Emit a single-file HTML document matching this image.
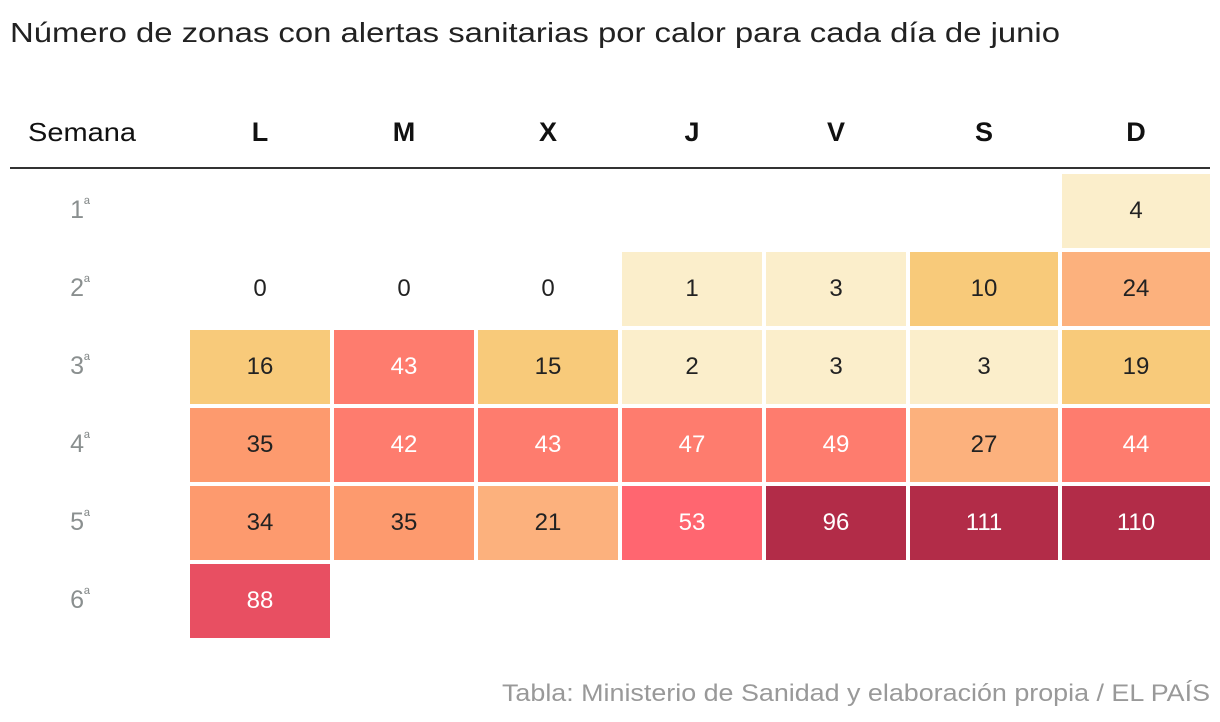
<!DOCTYPE html>
<html><head><meta charset="utf-8"><style>
html,body{margin:0;padding:0;background:#fff;width:1220px;height:722px;overflow:hidden}
svg{display:block;font-family:"Liberation Sans",sans-serif}
</style></head><body>
<svg id="chart" width="1220" height="722">
<text x="10" y="42" font-size="28" fill="#222" textLength="1050" lengthAdjust="spacingAndGlyphs">Número de zonas con alertas sanitarias por calor para cada día de junio</text>
<text x="28" y="141" font-size="26" fill="#111" textLength="108" lengthAdjust="spacingAndGlyphs">Semana</text>
<line x1="10" x2="1210" y1="168" y2="168" stroke="#333" stroke-width="2"/>
<text x="1210" y="701" font-size="24" fill="#999" text-anchor="end" textLength="708" lengthAdjust="spacingAndGlyphs">Tabla: Ministerio de Sanidad y elaboración propia / EL PAÍS</text>
<g id="cells"></g>
</svg>
<script>
const days = ["L","M","X","J","V","S","D"];
const weeks = ["1","2","3","4","5","6"];
const values = [
 [null,null,null,null,null,null,4],
 [0,0,0,1,3,10,24],
 [16,43,15,2,3,3,19],
 [35,42,43,47,49,27,44],
 [34,35,21,53,96,111,110],
 [88,null,null,null,null,null,null]
];
const colLeft=[190,334,478,622,766,910,1062];
const colRight=[330,474,618,762,906,1058,1210];
function rowTop(i){return 174+i*78;}
const cellH=74;
function color(v){
 if(v===0) return "none";
 if(v<=9) return "#fbeecb";
 if(v<=19) return "#f8ca7a";
 if(v<=29) return "#fcb17d";
 if(v<=39) return "#fd9a6e";
 if(v<=50) return "#fe7c6e";
 if(v<=60) return "#ff6670";
 if(v<=90) return "#e84f62";
 return "#b22c48";
}
const NS="http://www.w3.org/2000/svg";
const svg=document.getElementById("chart");
const g=document.getElementById("cells");
days.forEach((d,j)=>{
 const t=document.createElementNS(NS,"text");
 t.setAttribute("x",(colLeft[j]+colRight[j])/2);
 t.setAttribute("y",141);
 t.setAttribute("font-size","27");t.setAttribute("font-weight","bold");
 t.setAttribute("text-anchor","middle");t.setAttribute("fill","#111");
 t.textContent=d;
 
 
 svg.appendChild(t);
});
weeks.forEach((w,i)=>{
 const t=document.createElementNS(NS,"text");
 t.setAttribute("x",80);t.setAttribute("y",rowTop(i)+44);
 t.setAttribute("font-size","25");t.setAttribute("fill","#8a8f8f");
 t.setAttribute("text-anchor","middle");
 t.innerHTML=w+'<tspan font-size="16" dy="-9">ª</tspan>';
 
 
 svg.appendChild(t);
});
values.forEach((row,i)=>{
 row.forEach((v,j)=>{
  if(v===null) return;
  const x=colLeft[j],w=colRight[j]-colLeft[j],y=rowTop(i);
  const r=document.createElementNS(NS,"rect");
  r.setAttribute("x",x);r.setAttribute("y",y);r.setAttribute("width",w);r.setAttribute("height",cellH);
  r.setAttribute("fill",color(v));
  
  
  g.appendChild(r);
  const t=document.createElementNS(NS,"text");
  t.setAttribute("x",x+w/2);t.setAttribute("y",y+44);
  t.setAttribute("font-size","24");t.setAttribute("text-anchor","middle");
  t.setAttribute("fill",v>=40?"#fff":"#222");
  t.textContent=v;
  
  
  g.appendChild(t);
 });
});
</script>
</body></html>
